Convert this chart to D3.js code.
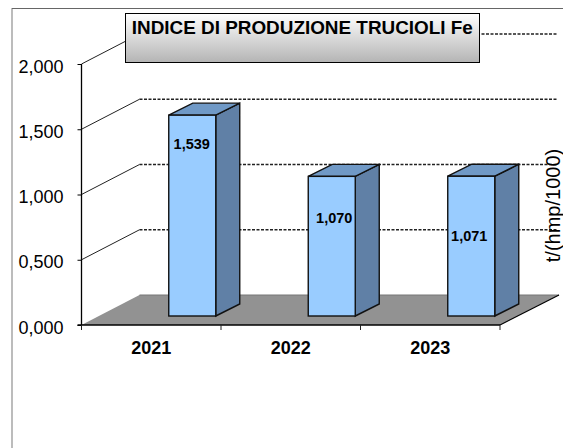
<!DOCTYPE html>
<html><head><meta charset="utf-8">
<script src="https://cdn.jsdelivr.net/npm/d3@7/dist/d3.min.js"></script>
<style>html,body{margin:0;padding:0;background:#fff}svg{display:block}text{font-family:"Liberation Sans",Arial,sans-serif;fill:#000}</style>
</head><body><div id="c"></div>
<script>
const categories = ["2021","2022","2023"];
const values = [1.539,1.070,1.071];
const valueLabels = ["1,539","1,070","1,071"];
const yTicks = [0,0.5,1,1.5,2];
const title = "INDICE DI PRODUZIONE TRUCIOLI Fe";
const yTitle = "t/(hmp/1000)";

const W=563,H=448;
const svg=d3.select("#c").append("svg").attr("width",W).attr("height",H);
const defs=svg.append("defs");
const g=defs.append("linearGradient").attr("id","tg").attr("x1",0).attr("y1",0).attr("x2",0).attr("y2",1);
g.append("stop").attr("offset",0).attr("stop-color","#ffffff");
g.append("stop").attr("offset",1).attr("stop-color","#b4b4b4");

const x0=81.5,x1=500,depthX=58,depthY=30;
const y=d3.scaleLinear().domain([0,2]).range([325,64]);
const x=d3.scaleBand().domain(categories).range([x0,x1]);
const barW=47,barDX=24,barDY=12,floorInset=9,barShift=41;
const labelNudgeX=[-0.5,2.5,-2],labelNudgeY=[33.5,46.5,65];
const fmt=d=>d3.format(".3f")(d).replace(".",",");

// frame
svg.append("line").attr("x1",12).attr("x2",12).attr("y1",8).attr("y2",H).attr("stroke","#a6a6a6").attr("stroke-width",1.5);
svg.append("line").attr("x1",12).attr("x2",W).attr("y1",8.5).attr("y2",8.5).attr("stroke","#666").attr("stroke-width",1);

// floor
svg.append("path").attr("d",`M${x0},${y(0)}L${x0+depthX},${y(0)-depthY}L${x1+depthX+1},${y(0)-depthY}L${x1},${y(0)}Z`)
  .attr("fill","#929292").attr("stroke","none");
svg.append("path").attr("d",`M${x0+depthX},${y(0)-depthY}L${x1+depthX+1},${y(0)-depthY}`).attr("stroke","#777").attr("fill","none");
svg.append("path").attr("d",`M${x1},${y(0)}L${x1+depthX+1},${y(0)-depthY}`).attr("stroke","#000").attr("stroke-width",1.2).attr("fill","none");

// grid
const grid=svg.append("g");
yTicks.filter(t=>t>0).forEach(t=>{
  grid.append("line").attr("x1",x0).attr("y1",y(t)).attr("x2",x0+depthX).attr("y2",y(t)-depthY).attr("stroke","#222").attr("stroke-width",1);
  grid.append("line").attr("x1",x0+depthX).attr("y1",y(t)-depthY).attr("x2",x1+depthX-1).attr("y2",y(t)-depthY).attr("stroke","#222").attr("stroke-width",1.3).attr("stroke-dasharray","3,1.5");
});

// axes
const ya=svg.append("g").attr("transform",`translate(${x0},0)`).call(d3.axisLeft(y).tickValues(yTicks).tickFormat(fmt).tickSize(4).tickPadding(14));
ya.select(".domain").attr("stroke","#000").attr("stroke-width",1.3).attr("d",`M0,${y(2)}V${y(0)}`);
ya.selectAll("text").attr("font-size","18px").attr("font-family","Liberation Sans").attr("dy","0.45em");
const xa=svg.append("g").attr("transform",`translate(0,${y(0)})`);
xa.append("line").attr("x1",x0-4).attr("x2",x1).attr("y1",0).attr("y2",0).attr("stroke","#000").attr("stroke-width",1.3);
[...categories.map(c=>x(c)),x1].forEach(v=>xa.append("line").attr("x1",v).attr("x2",v).attr("y1",0).attr("y2",5).attr("stroke","#222"));
categories.forEach(c=>xa.append("text").attr("x",x(c)+x.bandwidth()/2).attr("y",29).attr("text-anchor","middle").attr("font-size","18px").attr("font-weight","bold").text(c));

// bars
const bars=svg.append("g").selectAll("g").data(categories).join("g");
bars.each(function(c,i){
  const s=d3.select(this),bx=x(c)+x.bandwidth()/2-barW/2+barShift,by=y(0)-floorInset,h=y(0)-y(values[i]),ty=by-h;
  s.append("path").attr("d",`M${bx+barW},${by}L${bx+barW+barDX},${by-barDY}L${bx+barW+barDX},${ty-barDY}L${bx+barW},${ty}Z`).attr("fill","#6080a6").attr("stroke","#111").attr("stroke-width",1.4);
  s.append("path").attr("d",`M${bx},${ty}L${bx+barDX},${ty-barDY}L${bx+barW+barDX},${ty-barDY}L${bx+barW},${ty}Z`).attr("fill","#7099c6").attr("stroke","#111").attr("stroke-width",1.4);
  s.append("rect").attr("x",bx).attr("y",ty).attr("width",barW).attr("height",h).attr("fill","#99ccff").attr("stroke","#111").attr("stroke-width",1.4);
  s.append("text").attr("x",bx+barW/2+labelNudgeX[i]).attr("y",ty+labelNudgeY[i]).attr("text-anchor","middle").attr("font-size","14.5px").attr("font-weight","bold").text(valueLabels[i]);
});

// title
svg.append("rect").attr("x",125.5).attr("y",13.5).attr("width",354).attr("height",49).attr("fill","url(#tg)").attr("stroke","#000").attr("stroke-width",1);
svg.append("text").attr("x",302.3).attr("y",33.5).attr("text-anchor","middle").attr("font-size","18.9px").attr("font-weight","bold").text(title);

// y title
svg.append("text").attr("transform","translate(559.5,205.5) rotate(-90)").attr("text-anchor","middle").attr("font-size","20px").text(yTitle);
</script></body></html>
